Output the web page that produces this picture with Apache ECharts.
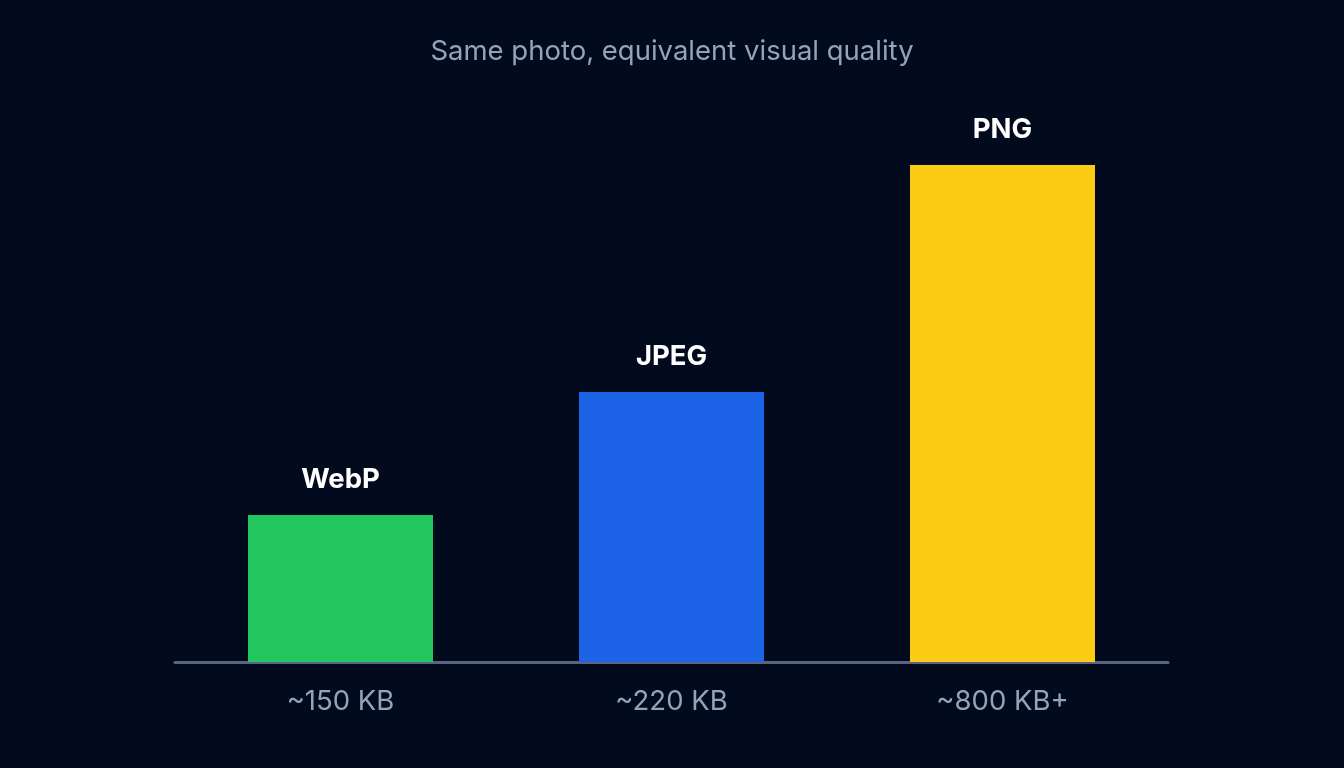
<!DOCTYPE html>
<html>
<head>
<meta charset="utf-8">
<script src="https://cdn.jsdelivr.net/npm/echarts@6/dist/echarts.min.js"></script>
<style>
  html, body { margin: 0; padding: 0; background: #020a1e; }
  #chart { width: 1344px; height: 768px; }
</style>
</head>
<body>
<div id="chart"></div>
<script>
// formats and their file sizes (bar heights, relative units)
const formats = ['WebP', 'JPEG', 'PNG'];
const sizeLabels = ['~150 KB', '~220 KB', '~800 KB+'];
const barHeights = [147, 270, 497];
const barColors = ['#22c55e', '#1d63e8', '#facc15'];

let chart = echarts.init(document.getElementById('chart'));

let option = {
    backgroundColor: '#020a1e',
    title: {
        text: 'Same photo, equivalent visual quality',
        left: 'center',
        top: 33,
        textStyle: {
            color: '#94a3b8',
            fontSize: 27.5,
            fontWeight: 'normal',
            fontFamily: 'Inter'
        }
    },
    grid: { left: 175, right: 176, top: 165, bottom: 106 },
    xAxis: {
        type: 'category',
        data: sizeLabels,
        axisLine: { lineStyle: { color: '#5a6480', width: 3 } },
        axisTick: { show: false },
        axisLabel: {
            color: '#94a3b8',
            fontSize: 27.5,
            fontFamily: 'Inter',
            margin: 26
        }
    },
    yAxis: {
        type: 'value',
        min: 0,
        max: 497,
        show: false,
        splitLine: { show: false }
    },
    series: [{
        type: 'bar',
        barWidth: 185,
        data: barHeights.map((v, i) => ({
            value: v,
            itemStyle: { color: barColors[i] }
        })),
        label: {
            show: true,
            position: 'top',
            distance: 21,
            formatter: p => formats[p.dataIndex],
            color: '#ffffff',
            fontSize: 27.5,
            fontWeight: 'bold',
            fontFamily: 'Inter'
        }
    }]
};

chart.setOption(option);
</script>
</body>
</html>
